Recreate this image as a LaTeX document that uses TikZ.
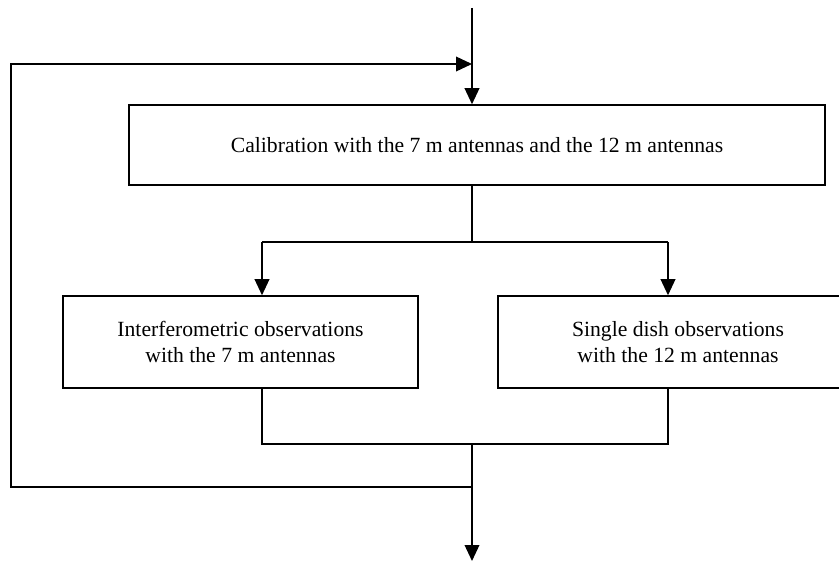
\documentclass[tikz,border=0pt]{standalone}
\usepackage{fontspec}
\setmainfont{Liberation Serif}
\usetikzlibrary{arrows.meta}

\begin{document}
\begin{tikzpicture}[x=0.03cm,y=-0.03cm,
  box/.style={draw,line width=1.3pt,align=center,font=\fontsize{18.5}{22}\selectfont,inner sep=0pt},
  flow/.style={line width=1.3pt,-{Triangle[length=0.48cm,width=0.44cm]}},
  link/.style={line width=1.3pt}]
\useasboundingbox (0,0) rectangle (839,562);
\clip (0,0) rectangle (839,562);
\node[box,minimum width=20.88cm,minimum height=2.4cm] (calib) at (477,145) {Calibration with the 7 m antennas and the 12 m antennas};
\node[box,minimum width=10.65cm,minimum height=2.76cm] (obsI) at (240.5,342) {Interferometric observations\\with the 7 m antennas};
\node[box,minimum width=10.8cm,minimum height=2.76cm] (obsS) at (678,342) {Single dish observations\\with the 12 m antennas};
\coordinate (top) at (472,8);
\coordinate (fb) at (11,64);
\coordinate (split) at (472,242);
\coordinate (l) at (262,242);
\coordinate (r) at (668,242);
\coordinate (merge) at (472,444);
\coordinate (back) at (472,487);
\coordinate (out) at (472,561);
\draw[flow] (top) -- (top |- calib.north);
\draw[link] (top |- calib.south) -- (split);
\draw[link] (l) -- (r);
\draw[flow] (l) -- (l |- obsI.north);
\draw[flow] (r) -- (r |- obsS.north);
\draw[link] (l |- obsI.south) -- (l |- merge) -- (r |- merge) -- (r |- obsS.south);
\draw[flow] (merge) -- (out);
\draw[flow] (back) -| (fb) -- (fb -| top);
\end{tikzpicture}
\end{document}
